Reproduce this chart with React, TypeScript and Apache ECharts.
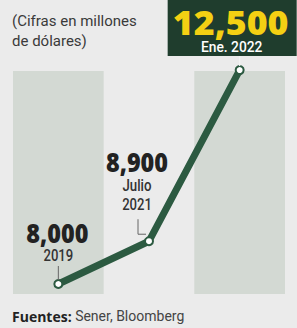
import React, { useEffect, useRef } from "react";
import * as echarts from "echarts";

const categories = ["2019", "Julio 2021", "Ene. 2022"];
const values = [8000, 8900, 12500];
const valueLabels = ["8,000", "8,900", "12,500"];
const dateLabels = [["2019"], ["Julio", "2021"], ["Ene. 2022"]];
const subtitle = "(Cifras en millones\nde dólares)";
const sourceLabel = "Fuentes:";
const sourceText = " Sener, Bloomberg";

const BOLD = "'Open Sans', Lato, sans-serif";
const COND = "Roboto, sans-serif";
const LINE = "#2c5a41";
const BOX = "#1f3d2d";

function txt(x: number, y: number, text: string, font: any, scaleX = 1, z = 20) {
  return {
    type: "text",
    x,
    y,
    scaleX,
    z,
    style: {
      x: 0,
      y: 0,
      text,
      align: "center",
      verticalAlign: "middle",
      ...font,
    },
  };
}

export default function App() {
  const ref = useRef<HTMLDivElement>(null);
  useEffect(() => {
    if (!ref.current) return;
    const chart = echarts.init(ref.current, null, { renderer: "svg" });
    const option: any = {
      animation: false,
      backgroundColor: "#ebebeb",
      title: {
        text: subtitle,
        left: 12,
        top: 11,
        padding: 0,
        textStyle: {
          fontFamily: "Roboto, sans-serif",
          fontSize: 15,
          fontWeight: "normal",
          color: "#3a3a3a",
          lineHeight: 20,
        },
      },
      grid: { left: 13, right: 12, top: 71, bottom: 34 },
      xAxis: {
        type: "category",
        data: categories,
        boundaryGap: true,
        axisLine: { show: false },
        axisTick: { show: false },
        axisLabel: { show: false },
        splitArea: { show: true, areaStyle: { color: ["#d3d9d3", "rgba(0,0,0,0)"] } },
      },
      yAxis: {
        type: "value",
        min: 7790,
        max: 12480,
        axisLine: { show: false },
        axisTick: { show: false },
        axisLabel: { show: false },
        splitLine: { show: false },
      },
      series: [
        {
          type: "line",
          clip: false,
          z: 3,
          data: values,
          symbol: "circle",
          symbolSize: 8,
          lineStyle: { color: LINE, width: 7, cap: "round", join: "round" },
          itemStyle: { color: "#ffffff", borderColor: LINE, borderWidth: 2 },
        },
      ],
    };
    chart.setOption(option);

    const p = values.map((v, i) => chart.convertToPixel({ gridIndex: 0 }, [i, v]) as number[]);
    const big = { fontFamily: BOLD, fontWeight: 800, fontSize: 26, fill: "#222" };
    const small = { fontFamily: COND, fontWeight: 500, fontSize: 17, fill: "#333" };
    chart.setOption({
      graphic: [
        {
          type: "line",
          z: 10,
          shape: { x1: p[0][0], y1: p[0][1] - 18, x2: p[0][0], y2: p[0][1] - 4 },
          style: { stroke: "#666", lineWidth: 1 },
        },
        {
          type: "polyline",
          z: 10,
          shape: {
            points: [
              [p[1][0] - 11, p[1][1] - 22],
              [p[1][0] - 11, p[1][1] - 7],
              [p[1][0] - 3, p[1][1] - 7],
            ],
          },
          style: { stroke: "#666", lineWidth: 1, fill: null },
        },
        {
          type: "line",
          z: 10,
          shape: { x1: p[2][0], y1: p[2][1] - 14, x2: p[2][0], y2: p[2][1] - 4 },
          style: { stroke: "#f4f4f4", lineWidth: 1.2 },
        },
        txt(p[0][0] - 1, p[0][1] - 51, valueLabels[0], big, 0.9),
        txt(p[0][0], p[0][1] - 29, dateLabels[0][0], small, 0.77),
        txt(p[1][0] - 12, p[1][1] - 79, valueLabels[1], big, 0.9),
        txt(p[1][0] - 12, p[1][1] - 56, dateLabels[1][0], small, 0.78),
        txt(p[1][0] - 12, p[1][1] - 37, dateLabels[1][1], small, 0.77),
        {
          type: "rect",
          z: 15,
          shape: { x: p[2][0] - 72, y: p[2][1] - 70, width: 129, height: 56 },
          style: { fill: BOX },
        },
        txt(p[2][0] - 9, p[2][1] - 48, valueLabels[2], { fontFamily: BOLD, fontWeight: 800, fontSize: 34, fill: "#f4d013" }, 1.05),
        txt(p[2][0] - 8, p[2][1] - 23, dateLabels[2][0], { fontFamily: COND, fontWeight: 500, fontSize: 15, fill: "#ffffff" }, 0.92),
        {
          type: "text",
          left: 12,
          top: 309,
          style: {
            text: `{b|${sourceLabel}}{r|${sourceText}}`,
            rich: {
              b: { fontFamily: BOLD, fontWeight: 700, fontSize: 14, fill: "#222" },
              r: { fontFamily: "Roboto, sans-serif", fontSize: 14, fill: "#444" },
            },
          },
        },
      ],
    });
    return () => chart.dispose();
  }, []);
  return (
    <div
      ref={ref}
      style={{ position: "fixed", left: 0, top: 0, width: 297, height: 328 }}
    />
  );
}
